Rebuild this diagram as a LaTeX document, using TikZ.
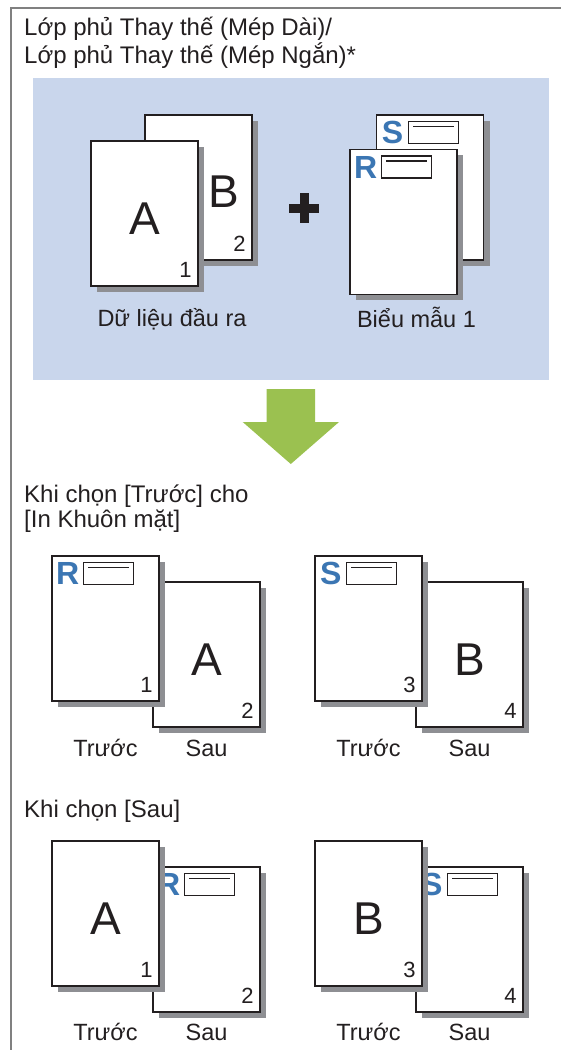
\documentclass[tikz,border=0pt]{standalone}
\usepackage{fontspec}
\setmainfont{Liberation Sans}
\usetikzlibrary{calc,shadows}
\definecolor{ink}{HTML}{231F20}
\definecolor{panel}{HTML}{C9D6EC}
\definecolor{formblue}{HTML}{3B76B3}
\definecolor{shade}{HTML}{8E8F93}
\definecolor{arrowgreen}{HTML}{9BC150}
\definecolor{framegray}{HTML}{808080}
\tikzset{
  sheet/.style={draw=ink, line width=1.4pt, fill=white, minimum width=107pt, minimum height=145pt, inner sep=0pt,
    drop shadow={shadow xshift=6pt, shadow yshift=-6pt, fill=shade, opacity=1}},
  bigchar/.style={text=ink, font=\fontsize{46}{46}\selectfont, inner sep=0pt},
  pageno/.style={text=ink, font=\fontsize{22}{22}\selectfont, inner sep=0pt, anchor=base east},
  formchar/.style={text=formblue, font=\bfseries\fontsize{32}{32}\selectfont, inner sep=0pt},
  formbox/.style={draw=ink, line width=1.6pt, fill=white, minimum width=50pt, minimum height=22pt, inner sep=0pt, anchor=north west},
  caption/.style={text=ink, font=\fontsize{23.5}{27}\selectfont, inner sep=0pt, anchor=base},
  heading/.style={caption, font=\fontsize{24}{28}\selectfont, anchor=base west}
}
\newcommand{\formhead}[2]{%
  \node[formchar] (#1-char) at ($(#1.north west)+(16.5,18.5)$) {#2};
  \node[formbox] (#1-box) at ($(#1.north west)+(31.5,6.5)$) {};
  \draw[ink, line width=1.3pt] ($(#1-box.north west)+(5.5,6)$) -- ($(#1-box.north east)+(-5,6)$);
}

\begin{document}
\begin{tikzpicture}[x=1pt, y=-1pt]
  \useasboundingbox (0,0) rectangle (561,1050);
  \draw[framegray, line width=1.6pt] (561,8) -- (11,8) -- (11,1050);
  \node[heading] (title1) at (24,35) {Lớp phủ Thay thế (Mép Dài)/};
  \node[heading] (title2) at (24,63) {Lớp phủ Thay thế (Mép Ngắn)*};

  \fill[panel] (33,78) rectangle (549,380);
  \node[sheet] (dataB) at (198.5,187.5) {};
  \node[bigchar] (chB) at ($(dataB.center)+(25.5,4.5)$) {B};
  \node[pageno] (no2) at ($(dataB.south east)+(-7,-9)$) {2};
  \node[sheet] (dataA) at (144.5,213.5) {};
  \node[bigchar] (chA) at ($(dataA.center)+(0.5,5.5)$) {A};
  \node[pageno] (no1) at ($(dataA.south east)+(-7,-9)$) {1};
  \node[caption] (dataLbl) at (172,326.5) {Dữ liệu đầu ra};

  \draw[ink, line width=9pt] (289,208) -- (319,208) (304,193) -- (304,223);

  \node[sheet] (formS) at (430.2,187.5) {};
  \formhead{formS}{S}
  \node[sheet] (formR) at (403.5,221.8) {};
  \formhead{formR}{R}
  \node[caption] (formLbl) at (416.5,327) {Biểu mẫu 1};

  \fill[arrowgreen] (266.7,389) -- (315,389) -- (315,422) -- (339,422) -- (290.8,464) -- (242.7,422) -- (266.7,422) -- cycle;

  \node[heading] (front1) at (24,502) {Khi chọn [Trước] cho};
  \node[heading] (front2) at (24,527) {[In Khuôn mặt]};
  \foreach \dx/\hd/\m/\n/\ch in {0/R/1/2/A, 263/S/3/4/B} {
    \node[sheet] (midb\ch) at (206.5+\dx,654.5) {};
    \node[bigchar] at ($(midb\ch.center)+(0,5.5)$) {\ch};
    \node[pageno] at ($(midb\ch.south east)+(-7,-9)$) {\n};
    \node[sheet] (midf\hd) at (105.5+\dx,628.5) {};
    \formhead{midf\hd}{\hd}
    \node[pageno] at ($(midf\hd.south east)+(-7,-9)$) {\m};
    \node[caption] at (105.5+\dx,756) {Trước};
    \node[caption] at (206.5+\dx,756) {Sau};
  }

  \node[heading] (back1) at (24,817) {Khi chọn [Sau]};
  \foreach \dx/\hd/\m/\n/\ch in {0/R/1/2/A, 263/S/3/4/B} {
    \node[sheet] (lowb\hd) at (206.5+\dx,939.5) {};
    \formhead{lowb\hd}{\hd}
    \node[pageno] at ($(lowb\hd.south east)+(-7,-9)$) {\n};
    \node[sheet] (lowf\ch) at (105.5+\dx,913.5) {};
    \node[bigchar] at ($(lowf\ch.center)+(0,5.5)$) {\ch};
    \node[pageno] at ($(lowf\ch.south east)+(-7,-9)$) {\m};
    \node[caption] at (105.5+\dx,1040) {Trước};
    \node[caption] at (206.5+\dx,1040) {Sau};
  }
\end{tikzpicture}
\end{document}
